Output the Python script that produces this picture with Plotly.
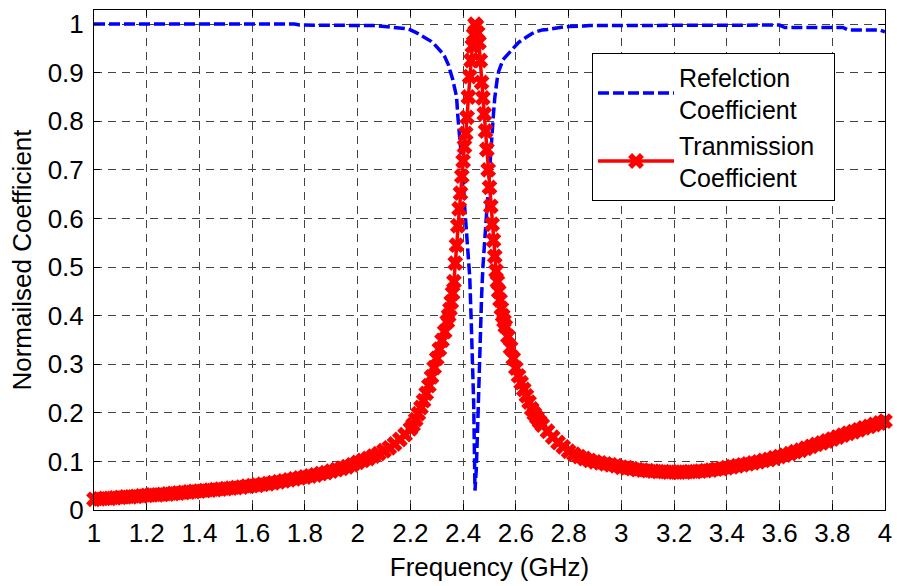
import plotly.graph_objects as go

# ---- data ----
freq_a = [1.00, 1.02, 1.04, 1.06, 1.08, 1.10, 1.12, 1.14, 1.16, 1.18,
          1.20, 1.22, 1.24, 1.26, 1.28, 1.30, 1.32, 1.34, 1.36, 1.38,
          1.40, 1.42, 1.44, 1.46, 1.48, 1.50, 1.52, 1.54, 1.56, 1.58,
          1.60, 1.62, 1.64, 1.66, 1.68, 1.70, 1.72, 1.74, 1.76, 1.78,
          1.80, 1.82, 1.84, 1.86, 1.88, 1.90, 1.92, 1.94, 1.96, 1.98,
          2.00, 2.02, 2.04, 2.06, 2.08, 2.10, 2.12, 2.14, 2.16, 2.18, 2.20]
freq_b = [2.21, 2.22, 2.23, 2.24, 2.25, 2.26, 2.27, 2.28, 2.29, 2.30,
          2.31, 2.32, 2.33, 2.34]
freq_c = [2.345, 2.350, 2.355, 2.360, 2.365, 2.370, 2.375, 2.380, 2.385, 2.390,
          2.395, 2.400, 2.405, 2.410, 2.415, 2.420, 2.425, 2.430, 2.435, 2.440,
          2.445, 2.450, 2.455, 2.460, 2.465, 2.470, 2.475, 2.480, 2.485, 2.490,
          2.495, 2.500, 2.505, 2.510, 2.515, 2.520, 2.525, 2.530, 2.535, 2.540,
          2.545, 2.550, 2.555, 2.560]
freq_d = [2.57, 2.58, 2.59, 2.60, 2.61, 2.62, 2.63, 2.64, 2.65, 2.66,
          2.67, 2.68, 2.69, 2.70]
freq_e = [2.72, 2.74, 2.76, 2.78, 2.80, 2.82, 2.84, 2.86, 2.88, 2.90,
          2.92, 2.94, 2.96, 2.98, 3.00, 3.02, 3.04, 3.06, 3.08, 3.10,
          3.12, 3.14, 3.16, 3.18, 3.20, 3.22, 3.24, 3.26, 3.28, 3.30,
          3.32, 3.34, 3.36, 3.38, 3.40, 3.42, 3.44, 3.46, 3.48, 3.50,
          3.52, 3.54, 3.56, 3.58, 3.60, 3.62, 3.64, 3.66, 3.68, 3.70,
          3.72, 3.74, 3.76, 3.78, 3.80, 3.82, 3.84, 3.86, 3.88, 3.90,
          3.92, 3.94, 3.96, 3.98, 4.00]

trans_a = [0.022, 0.023, 0.024, 0.024, 0.025, 0.026, 0.027, 0.027, 0.028, 0.029,
           0.030, 0.031, 0.031, 0.032, 0.033, 0.034, 0.035, 0.036, 0.037, 0.038,
           0.039, 0.040, 0.041, 0.042, 0.043, 0.044, 0.045, 0.046, 0.047, 0.049,
           0.050, 0.051, 0.053, 0.054, 0.056, 0.058, 0.060, 0.062, 0.064, 0.066,
           0.068, 0.070, 0.072, 0.075, 0.077, 0.080, 0.083, 0.086, 0.089, 0.093,
           0.098, 0.102, 0.106, 0.111, 0.116, 0.122, 0.128, 0.136, 0.145, 0.155, 0.167]
trans_b = [0.175, 0.186, 0.198, 0.211, 0.225, 0.240, 0.256, 0.274, 0.293, 0.312,
           0.331, 0.349, 0.367, 0.388]
trans_c = [0.400, 0.413, 0.428, 0.446, 0.470, 0.508, 0.545, 0.585, 0.620, 0.652,
           0.687, 0.718, 0.748, 0.775, 0.808, 0.850, 0.892, 0.925, 0.955, 0.978,
           1.000, 0.996, 0.982, 0.962, 0.925, 0.880, 0.848, 0.815, 0.780, 0.742,
           0.700, 0.664, 0.625, 0.588, 0.555, 0.522, 0.492, 0.470, 0.450, 0.432,
           0.415, 0.400, 0.389, 0.378]
trans_d = [0.357, 0.334, 0.312, 0.292, 0.276, 0.262, 0.248, 0.235, 0.222, 0.208,
           0.198, 0.190, 0.182, 0.175]
trans_e = [0.162, 0.150, 0.139, 0.130, 0.121, 0.115, 0.110, 0.106, 0.102, 0.099,
           0.097, 0.095, 0.093, 0.091, 0.088, 0.087, 0.085, 0.083, 0.082, 0.081,
           0.080, 0.079, 0.079, 0.078, 0.078, 0.078, 0.078, 0.079, 0.079, 0.080,
           0.081, 0.082, 0.084, 0.085, 0.087, 0.089, 0.091, 0.093, 0.095, 0.097,
           0.099, 0.102, 0.104, 0.107, 0.110, 0.113, 0.116, 0.120, 0.123, 0.127,
           0.131, 0.135, 0.138, 0.142, 0.146, 0.150, 0.154, 0.158, 0.161, 0.165,
           0.169, 0.172, 0.176, 0.179, 0.183]

refl_a = [1.000, 1.000, 1.000, 1.000, 1.000, 1.000, 1.000, 1.000, 1.000, 1.000,
          1.000, 1.000, 1.000, 1.000, 1.000, 1.000, 1.000, 1.000, 1.000, 1.000,
          1.000, 1.000, 1.000, 1.000, 1.000, 1.000, 1.000, 1.000, 1.000, 1.000,
          1.000, 1.000, 1.000, 1.000, 1.000, 1.000, 1.000, 1.000, 1.000, 0.998,
          0.998, 0.998, 0.998, 0.998, 0.998, 0.998, 0.998, 0.998, 0.998, 0.998,
          0.998, 0.998, 0.997, 0.997, 0.996, 0.995, 0.995, 0.994, 0.993, 0.991, 0.988]
refl_b = [0.986, 0.983, 0.980, 0.977, 0.975, 0.972, 0.968, 0.964, 0.959, 0.953,
          0.948, 0.941, 0.933, 0.922]
refl_c = [0.915, 0.905, 0.897, 0.887, 0.875, 0.864, 0.851, 0.810, 0.780, 0.755,
          0.722, 0.685, 0.630, 0.588, 0.550, 0.525, 0.480, 0.400, 0.310, 0.220,
          0.040, 0.085, 0.170, 0.270, 0.370, 0.440, 0.500, 0.540, 0.575, 0.615,
          0.676, 0.712, 0.745, 0.780, 0.815, 0.848, 0.873, 0.890, 0.903, 0.912,
          0.919, 0.925, 0.929, 0.932]
refl_d = [0.939, 0.946, 0.952, 0.957, 0.962, 0.966, 0.970, 0.974, 0.977, 0.980,
          0.983, 0.985, 0.987, 0.988]
refl_e = [0.989, 0.991, 0.993, 0.994, 0.995, 0.995, 0.996, 0.996, 0.997, 0.997,
          0.998, 0.998, 0.998, 0.998, 0.998, 0.998, 0.998, 0.998, 0.998, 0.998,
          0.998, 0.998, 0.998, 0.998, 0.998, 0.998, 0.998, 0.998, 0.998, 0.998,
          0.998, 0.998, 0.998, 0.998, 0.998, 0.998, 0.998, 0.998, 0.998, 0.998,
          0.998, 0.998, 0.998, 0.998, 0.998, 0.993, 0.993, 0.993, 0.993, 0.993,
          0.993, 0.993, 0.993, 0.993, 0.993, 0.993, 0.993, 0.988, 0.988, 0.988,
          0.988, 0.988, 0.988, 0.988, 0.984]

x_ticks = [1, 1.2, 1.4, 1.6, 1.8, 2, 2.2, 2.4, 2.6, 2.8, 3, 3.2, 3.4, 3.6, 3.8, 4]
x_tick_labels = ["1", "1.2", "1.4", "1.6", "1.8", "2", "2.2", "2.4", "2.6", "2.8",
                 "3", "3.2", "3.4", "3.6", "3.8", "4"]
y_ticks = [0, 0.1, 0.2, 0.3, 0.4, 0.5, 0.6, 0.7, 0.8, 0.9, 1]
y_tick_labels = ["0", "0.1", "0.2", "0.3", "0.4", "0.5", "0.6", "0.7", "0.8", "0.9", "1"]

freq = freq_a + freq_b + freq_c + freq_d + freq_e
refl = refl_a + refl_b + refl_c + refl_d + refl_e
trans = trans_a + trans_b + trans_c + trans_d + trans_e

FONT = "Liberation Sans, Arial, Helvetica, sans-serif"

fig = go.Figure()
fig.add_trace(go.Scatter(
    x=freq, y=refl, mode="lines", name="Refelction<br>Coefficient",
    line=dict(color="#0000FF", width=3.5, dash="11px,4px"),
))
fig.add_trace(go.Scatter(
    x=freq, y=trans, mode="lines+markers",
    name="Tranmission\u00a0\u00a0<br>Coefficient",
    line=dict(color="#FF0000", width=3.5),
    marker=dict(symbol="x", size=14, color="#FF0000", line=dict(width=0)),
    cliponaxis=False,
))

axis_common = dict(
    showline=True, linecolor="black", linewidth=1, mirror="ticks",
    ticks="inside", ticklen=6, tickcolor="black", tickwidth=1,
    showgrid=True, gridcolor="#444444", gridwidth=1, griddash="8px,6px",
    zeroline=False, tickfont=dict(family=FONT, size=26, color="black"),
)

fig.update_xaxes(
    range=[1, 4], tickvals=x_ticks, ticktext=x_tick_labels,
    title=dict(text="Frequency (GHz)", font=dict(family=FONT, size=26, color="black"),
               standoff=10),
    ticklabelstandoff=0,
    **axis_common,
)
fig.update_yaxes(
    range=[0, 1.029], tickvals=y_ticks, ticktext=y_tick_labels,
    title=dict(text="Normailsed Coefficient", font=dict(family=FONT, size=26, color="black"),
               standoff=8),
    ticklabelstandoff=4,
    **axis_common,
)

fig.update_layout(
    width=897, height=586,
    margin=dict(l=94, r=12, t=10, b=76, autoexpand=False),
    paper_bgcolor="white", plot_bgcolor="white",
    font=dict(family=FONT, size=26, color="black"),
    showlegend=True,
    legend=dict(
        x=0.6296, y=0.914, xanchor="left", yanchor="top",
        bgcolor="white", bordercolor="black", borderwidth=1,
        font=dict(family=FONT, size=25, color="black"),
        itemwidth=76, tracegroupgap=0,
    ),
)

fig.write_html("out.html")
